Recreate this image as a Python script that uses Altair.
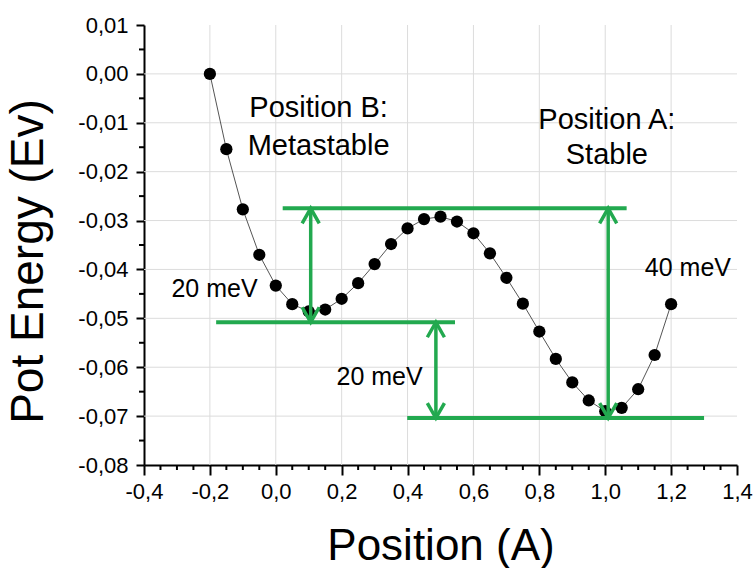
import altair as alt
import pandas as pd

# ---------------- data ----------------
position = [-0.20, -0.15, -0.10, -0.05, 0.00, 0.05, 0.10, 0.15, 0.20, 0.25,
            0.30, 0.35, 0.40, 0.45, 0.50, 0.55, 0.60, 0.65, 0.70, 0.75,
            0.80, 0.85, 0.90, 0.95, 1.00, 1.05, 1.10, 1.15, 1.20]
energy = [0.0000, -0.0154, -0.0277, -0.0370, -0.0433, -0.0471, -0.0486, -0.0482,
          -0.0460, -0.0428, -0.0389, -0.0348, -0.0316, -0.0297, -0.0292, -0.0302,
          -0.0326, -0.0367, -0.0417, -0.0470, -0.0527, -0.0583, -0.0631, -0.0668,
          -0.0690, -0.0683, -0.0645, -0.0575, -0.0471]

# green horizontal reference levels
level_y = [-0.0275, -0.0508, -0.0704]
level_x1 = [0.021, -0.181, 0.399]
level_x2 = [1.065, 0.544, 1.300]

# green double-headed arrows
arrow_x = [0.106, 0.486, 1.009]
arrow_top = [-0.0275, -0.0508, -0.0275]
arrow_bottom = [-0.0508, -0.0704, -0.0704]

# annotations
big_text = ["Position B:", "Metastable", "Position A:", "Stable"]
big_x = [0.13, 0.13, 1.005, 1.005]
big_y = [-0.0089, -0.0165, -0.0113, -0.0184]
mev_text = ["20 meV", "20 meV", "40 meV"]
mev_x = [-0.186, 0.315, 1.251]
mev_y = [-0.0457, -0.0636, -0.0413]

# axes
x_ticks = [-0.4, -0.2, 0.0, 0.2, 0.4, 0.6, 0.8, 1.0, 1.2, 1.4]
x_labels = ["-0,4", "-0,2", "0,0", "0,2", "0,4", "0,6", "0,8", "1,0", "1,2", "1,4"]
y_ticks = [0.01, 0.0, -0.01, -0.02, -0.03, -0.04, -0.05, -0.06, -0.07, -0.08]
y_labels = ["0,01", "0,00", "-0,01", "-0,02", "-0,03", "-0,04", "-0,05", "-0,06", "-0,07", "-0,08"]
grid_x = [-0.2, 0.0, 0.2, 0.4, 0.6, 0.8, 1.0, 1.2]
grid_y = [0.0, -0.01, -0.02, -0.03, -0.04, -0.05, -0.06, -0.07]
x_minor = [round(-0.4 + 0.05 * i, 3) for i in range(37) if i % 4 != 0]
y_minor = [round(0.01 - 0.005 * i, 4) for i in range(19) if i % 2 == 1]

# ---------------- chart ----------------
W, H = 593, 440
FONT = "Liberation Sans"
GREEN = "#22a94f"


def label_expr(vals, labs):
    expr = "''"
    for v, l in reversed(list(zip(vals, labs))):
        expr = f"abs(datum.value - ({v})) < 1e-6 ? '{l}' : ({expr})"
    return expr


x_axis = alt.Axis(values=x_ticks, labelExpr=label_expr(x_ticks, x_labels),
                  grid=False, tickSize=10, tickWidth=2, tickColor="black",
                  domainColor="black", domainWidth=2, labelFont=FONT,
                  labelFontSize=22, labelColor="black", labelPadding=6,
                  labelFlush=False, labelOverlap=False,
                  title="Position (A)", titleFont=FONT, titleFontSize=44,
                  titleFontWeight="normal", titleColor="black",
                  titleBaseline="alphabetic", titleY=94)
y_axis = alt.Axis(values=y_ticks, labelExpr=label_expr(y_ticks, y_labels),
                  grid=False, tickSize=8, tickWidth=2, tickColor="black",
                  domainColor="black", domainWidth=2, labelFont=FONT,
                  labelFontSize=22, labelColor="black", labelPadding=8,
                  labelOverlap=False,
                  title="Pot Energy (Ev)", titleFont=FONT, titleFontSize=46,
                  titleFontWeight="normal", titleColor="black",
                  titleAngle=270, titleBaseline="alphabetic", titleAlign="center",
                  titleX=-102, titleY=236)
xs = alt.Scale(domain=[-0.4, 1.4], nice=False, zero=False)
ys = alt.Scale(domain=[-0.08, 0.01], nice=False, zero=False)


def X(f):
    return alt.X(f, type="quantitative", scale=xs, axis=x_axis)


def Y(f):
    return alt.Y(f, type="quantitative", scale=ys, axis=y_axis)


grid_v = alt.Chart(pd.DataFrame({"v": grid_x})).mark_rule(
    color="#dcdcdc", strokeWidth=1).encode(x=X("v"), y=alt.value(0), y2=alt.value(H))
grid_h = alt.Chart(pd.DataFrame({"v": grid_y})).mark_rule(
    color="#dcdcdc", strokeWidth=1).encode(y=Y("v"), x=alt.value(0), x2=alt.value(W))

minor_x = alt.Chart(pd.DataFrame({"v": x_minor})).mark_rule(
    color="black", strokeWidth=2).encode(x=X("v"), y=alt.value(H), y2=alt.value(H + 5))
minor_y = alt.Chart(pd.DataFrame({"v": y_minor})).mark_rule(
    color="black", strokeWidth=2).encode(y=Y("v"), x=alt.value(-5), x2=alt.value(0))

curve_df = pd.DataFrame({"x": position, "y": energy})
line = alt.Chart(curve_df).mark_line(color="#555555", strokeWidth=1).encode(
    x=X("x"), y=Y("y"))
dots = alt.Chart(curve_df).mark_circle(size=150, color="black", opacity=1).encode(
    x=X("x"), y=Y("y"))

levels = alt.Chart(pd.DataFrame({"x": level_x1, "x2": level_x2, "y": level_y})).mark_rule(
    color=GREEN, strokeWidth=4).encode(x=X("x"), x2="x2", y=Y("y"))

arr_df = pd.DataFrame({"x": arrow_x, "y": arrow_top, "y2": arrow_bottom})
shafts = alt.Chart(arr_df).mark_rule(color=GREEN, strokeWidth=3.5).encode(
    x=X("x"), y=Y("y"), y2="y2")
heads_up = alt.Chart(pd.DataFrame({"x": arrow_x, "y": arrow_top})).mark_point(
    shape="M-0.57,1L0,0L0.57,1", size=900, filled=False, stroke=GREEN,
    strokeWidth=3.5, opacity=1).encode(x=X("x"), y=Y("y"))
heads_down = alt.Chart(pd.DataFrame({"x": arrow_x, "y": arrow_bottom})).mark_point(
    shape="M-0.57,-1L0,0L0.57,-1", size=900, filled=False, stroke=GREEN,
    strokeWidth=3.5, opacity=1).encode(x=X("x"), y=Y("y"))

big_labels = alt.Chart(pd.DataFrame({"x": big_x, "y": big_y, "t": big_text})).mark_text(
    font=FONT, fontSize=29, align="center", baseline="alphabetic", color="black").encode(
    x=X("x"), y=Y("y"), text="t:N")
mev_labels = alt.Chart(pd.DataFrame({"x": mev_x, "y": mev_y, "t": mev_text})).mark_text(
    font=FONT, fontSize=25, align="center", baseline="alphabetic", color="black").encode(
    x=X("x"), y=Y("y"), text="t:N")

chart = alt.layer(
    grid_v, grid_h, minor_x, minor_y, line, dots, levels, shafts, heads_up, heads_down,
    big_labels, mev_labels
).properties(
    width=W, height=H,
    padding={"left": 144, "top": 25, "right": 19, "bottom": 103},
    autosize=alt.AutoSizeParams(type="none"),
    background="white",
).configure_view(strokeWidth=0)

chart.save("out.html", embed_options={"renderer": "svg", "actions": False})
